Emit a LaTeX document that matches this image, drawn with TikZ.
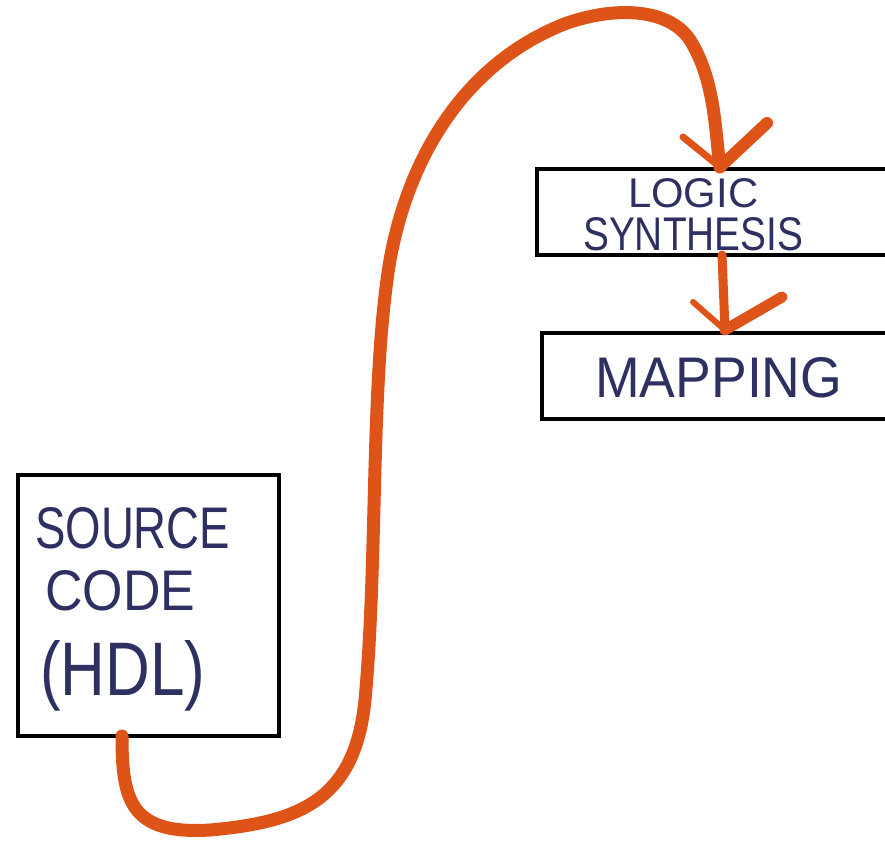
\documentclass[tikz,border=0pt]{standalone}
\usepackage{fontspec}
\setmainfont{Liberation Sans}
\definecolor{ink}{HTML}{2E3062}
\definecolor{orng}{HTML}{DE5318}
\tikzset{
  box/.style={draw=black, line width=4pt, anchor=north west, inner sep=0pt},
  lbl/.style={text=ink, inner sep=0pt, anchor=north west, font=\rmfamily},
  flow/.style={draw=orng, line width=13pt, line cap=round, line join=round},
  tipstroke/.style={draw=orng, line width=12pt, line cap=round, line join=round},
}
\begin{document}
\begin{tikzpicture}[x=1pt,y=-1pt]
\useasboundingbox[fill=white] (0,0) rectangle (885,840);
% boxes
\node[box, minimum width=261pt, minimum height=261pt] (src) at (16,473) {};
\node[box, minimum width=370pt, minimum height=86pt] (logic) at (535,167) {};
\node[box, minimum width=365pt, minimum height=86pt] (map) at (540,331) {};
% labels
\node[lbl] (t1) at (35,507) {\resizebox{195pt}{41pt}{SOURCE}};
\node[lbl] (t2) at (45,570) {\resizebox{150pt}{40pt}{CODE}};
\node[lbl] (t3) at (40,640) {\resizebox{165pt}{55pt}{(HDL)}};
\node[lbl] (t4) at (628,178) {\resizebox{130pt}{29pt}{LOGIC}};
\node[lbl] (t5) at (583,217) {\resizebox{220pt}{33pt}{SYNTHESIS}};
\node[lbl] (t6) at (595,357) {\resizebox{247pt}{40pt}{MAPPING}};
% connector points
\coordinate (s) at (122,736);
\coordinate (lt) at (720,167);
\coordinate (lb) at (722,255);
\coordinate (mt) at (725,330);
% main curve
\path[flow] (s) .. controls (122,800) and (130,835) .. (210,830)
  .. controls (300,822) and (355,800) .. (365,700)
  .. controls (378,560) and (370,380) .. (390,260)
  .. controls (410,150) and (470,60) .. (567,23)
  .. controls (620,5) and (670,10) .. (690,40)
  .. controls (715,80) and (715,130) .. (lt);
\path[tipstroke, line width=7pt] (683,137) -- (lt);
\path[tipstroke] (lt) -- (767,123);
% second arrow
\path[flow, line width=9pt] (lb) -- (mt);
\path[tipstroke, line width=6pt] (693,302) -- (mt);
\path[tipstroke, line width=11pt] (mt) -- (782,297);
\end{tikzpicture}
\end{document}
